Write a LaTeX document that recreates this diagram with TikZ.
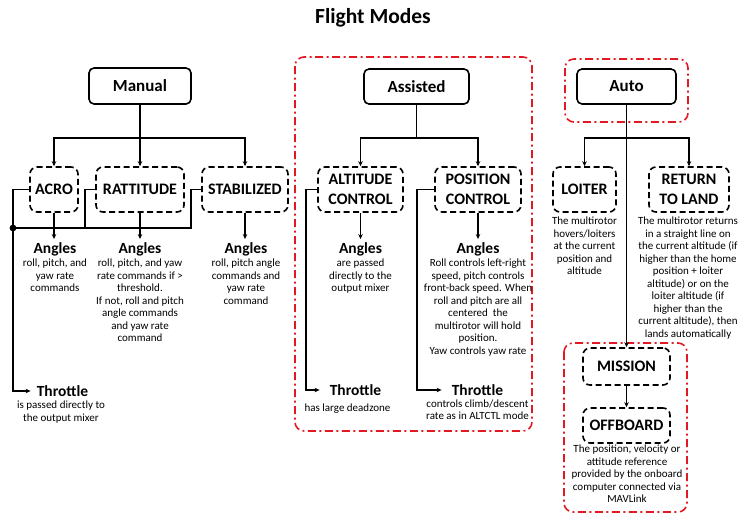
\documentclass[tikz,border=0pt]{standalone}
\usepackage{fontspec}
\setmainfont{Carlito}
\usetikzlibrary{arrows.meta}
\definecolor{grpred}{RGB}{225,25,35}
\begin{document}
\begin{tikzpicture}[x=1pt,y=-1pt,
  mainbox/.style={draw, line width=1.6pt, rounded corners=5pt, inner sep=0pt, font=\bfseries\fontsize{17}{20}\selectfont},
  modebox/.style={draw, line width=1.6pt, dash pattern=on 6pt off 3.5pt, rounded corners=7pt, inner sep=0pt, align=center, font=\bfseries\fontsize{16}{20.5}\selectfont},
  grp/.style={draw=grpred, line width=1.6pt, dash pattern=on 8pt off 3.5pt on 2pt off 3.5pt, rounded corners=9pt},
  head/.style={font=\bfseries\fontsize{15.5}{18}\selectfont, inner xsep=0pt, inner ysep=0pt},
  desc/.style={font=\fontsize{11}{12.5}\selectfont, align=center, inner sep=0pt, anchor=north},
  conn/.style={line width=1.9pt},
  arr/.style={conn, -{Stealth[length=5pt,width=4.5pt]}},
]
\useasboundingbox (0,0) rectangle (745,523);

% title
\node[font=\bfseries\fontsize{21.5}{25}\selectfont] (title) at (373,18) {Flight Modes};

% red groups
\draw[grp] (295,57) rectangle (532,431);
\draw[grp] (565,59) rectangle (688,122);
\draw[grp] (564,343) rectangle (687,512);

% main boxes
\node[mainbox, minimum width=102pt, minimum height=36pt] (manual) at (140,86) {Manual};
\node[mainbox, minimum width=105pt, minimum height=35pt] (assisted) at (416.5,86.5) {Assisted};
\node[mainbox, minimum width=99pt, minimum height=35pt] (auto) at (626.5,86.5) {Auto};

% mode boxes
\node[modebox, minimum width=48pt, minimum height=45pt] (acro) at (54,189.5) {ACRO};
\node[modebox, minimum width=88pt, minimum height=45pt] (ratt) at (140,189.5) {RATTITUDE};
\node[modebox, minimum width=86pt, minimum height=45pt] (stab) at (245,189.5) {STABILIZED};
\node[modebox, minimum width=85pt, minimum height=45pt] (alt) at (360.5,189.5) {ALTITUDE\\CONTROL};
\node[modebox, minimum width=86pt, minimum height=45pt] (pos) at (478,189.5) {POSITION\\CONTROL};
\node[modebox, minimum width=63pt, minimum height=45pt] (loiter) at (584.5,189.5) {LOITER};
\node[modebox, minimum width=80pt, minimum height=45pt] (rtl) at (689,189.5) {RETURN\\TO LAND};
\node[modebox, minimum width=87pt, minimum height=37pt] (mission) at (626.5,366.5) {MISSION};
\node[modebox, minimum width=87pt, minimum height=35pt] (offb) at (626.5,425.5) {OFFBOARD};

% Manual branch
\draw[arr] (manual.south) -- ++(0,33) -| (acro.north);
\draw[arr] (manual.south) -- (ratt.north);
\draw[arr] (manual.south) -- ++(0,33) -| (stab.north);

\node[head] (ang1) at (55,249) {Angles};
\node[desc] (d1) at (55,259) {roll, pitch, and\\yaw rate\\commands};
\node[head] (ang2) at (140,249) {Angles};
\node[desc] (d2) at (140,259) {roll, pitch, and yaw\\rate commands if >\\threshold.\\If not, roll and pitch\\angle commands\\and yaw rate\\command};
\node[head] (ang3) at (246,249) {Angles};
\node[desc] (d3) at (246,259) {roll, pitch angle\\commands and\\yaw rate\\command};
\draw[arr, shorten >=3pt] (acro.south) -- (acro.south |- ang1.north);
\draw[arr, shorten >=3pt] (ratt.south) -- (ratt.south |- ang2.north);
\draw[arr, shorten >=3pt] (stab.south) -- (stab.south |- ang3.north);

\node[head] (thr1) at (62.5,391) {Throttle};
\node[desc] (t1) at (61,401) {is passed directly to\\the output mixer};
\coordinate (mdot) at (13,228);
\draw[arr, shorten >=6pt] (acro.west) -| (mdot) |- (thr1.west);
\draw[conn] (ratt.west) -- ++(-10,0) |- (mdot);
\draw[conn] (stab.west) -- ++(-10,0) |- (mdot);
\fill (mdot) circle (3.4pt);

% Assisted branch
\draw[arr] (assisted.south) -- ++(0,33) -| (alt.north);
\draw[arr] (assisted.south) -- ++(0,33) -| (pos.north);

\node[head] (ang4) at (360.5,249) {Angles};
\node[desc] (d4) at (360.5,259) {are passed\\directly to the\\output mixer};
\node[head] (ang5) at (478,249) {Angles};
\node[desc] (d5) at (478,259) {Roll controls left-right\\speed, pitch controls\\front-back speed. When\\roll and pitch are all\\centered\ \ the\\multirotor will hold\\position.\\Yaw controls yaw rate};
\draw[arr, shorten >=3pt] (alt.south) -- (alt.south |- ang4.north);
\draw[arr, shorten >=3pt] (pos.south) -- (pos.south |- ang5.north);

\node[head] (thr2) at (355.5,390) {Throttle};
\node[desc] (t2) at (347.5,404) {has large deadzone};
\node[head] (thr3) at (477.5,390) {Throttle};
\node[desc] (t3) at (477.5,399.5) {controls climb/descent\\rate as in ALTCTL mode};
\draw[arr, shorten >=10pt] (alt.west) -- ++(-11,0) |- (thr2.west);
\draw[arr, shorten >=10pt] (pos.west) -- ++(-17,0) |- (thr3.west);

% Auto branch
\draw[arr] (auto.south) -- ++(0,33) -| (loiter.north);
\draw[arr] (auto.south) -- ++(0,33) -| (rtl.north);
\draw[arr] (auto.south) -- (mission.north);
\draw[arr] (mission.south) -- (offb.north);

\node[desc] (d6) at (584.5,217) {The multirotor\\hovers/loiters\\at the current\\position and\\altitude};
\node[desc] (d7) at (688,217) {The multirotor returns\\in a straight line on\\the current altitude (if\\higher than the home\\position + loiter\\altitude) or on the\\loiter altitude (if\\higher than the\\current altitude), then\\lands automatically};
\node[desc] (d8) at (627,445) {The position, velocity or\\attitude reference\\provided by the onboard\\computer connected via\\MAVLink};
\end{tikzpicture}
\end{document}
